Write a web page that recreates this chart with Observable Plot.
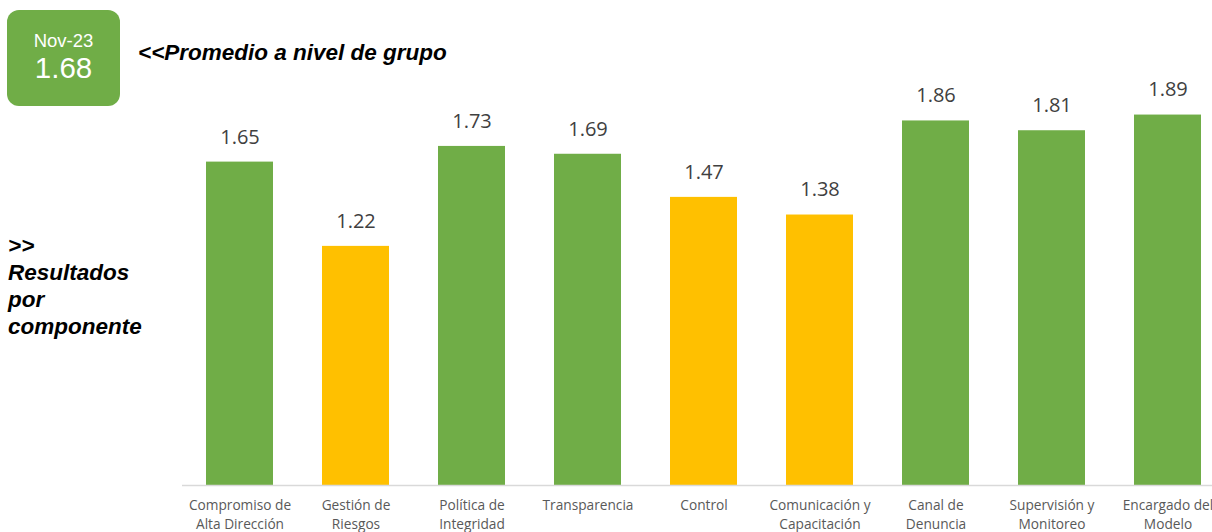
<!DOCTYPE html>
<html>
<head>
<meta charset="utf-8">
<script src="https://cdn.jsdelivr.net/npm/d3@7"></script>
<script src="https://cdn.jsdelivr.net/npm/@observablehq/plot@0.6"></script>
<style>
  html, body { margin: 0; padding: 0; background: #fff; overflow: hidden; }
  #wrap { position: relative; width: 1212px; height: 532px; }
  #chart { position: absolute; left: 0; top: 0; }
  .badge { position: absolute; left: 7px; top: 10px; width: 113px; height: 96px; background: #70ad47; border-radius: 12px; color: #fff; font-family: "Liberation Sans", Arial, sans-serif; text-align: center; }
  .badge .m { position: absolute; left: 0; right: 0; top: 20px; font-size: 18.5px; line-height: 22px; }
  .badge .v { position: absolute; left: 0; right: 0; top: 41px; font-size: 29.5px; line-height: 34px; }
  .title { position: absolute; left: 138px; top: 40px; font-family: "Liberation Sans", Arial, sans-serif; font-weight: bold; font-style: italic; font-size: 22.5px; line-height: 26px; color: #000; white-space: nowrap; }
  .side { position: absolute; left: 8px; top: 232px; font-family: "Liberation Sans", Arial, sans-serif; font-weight: bold; font-style: italic; font-size: 22.5px; line-height: 27px; color: #000; }
</style>
</head>
<body>
<div id="wrap">
  <div id="chart"></div>
  <div class="badge"><div class="m">Nov-23</div><div class="v">1.68</div></div>
  <div class="title">&lt;&lt;Promedio a nivel de grupo</div>
  <div class="side">&gt;&gt;<br>Resultados<br>por<br>componente</div>
</div>
<script>
const categories = [
  "Compromiso de\nAlta Dirección",
  "Gestión de\nRiesgos",
  "Política de\nIntegridad",
  "Transparencia",
  "Control",
  "Comunicación y\nCapacitación",
  "Canal de\nDenuncia",
  "Supervisión y\nMonitoreo",
  "Encargado del\nModelo"
];
const values = [1.65, 1.22, 1.73, 1.69, 1.47, 1.38, 1.86, 1.81, 1.89];
const nivel = ["alto", "bajo", "alto", "alto", "bajo", "bajo", "alto", "alto", "alto"];

const data = categories.map((c, i) => ({cat: c, value: values[i], nivel: nivel[i]}));

const chart = Plot.plot({
  width: 1212,
  height: 532,
  marginLeft: 182,
  marginRight: 0,
  marginTop: 0,
  marginBottom: 0,
  style: {overflow: "visible", background: "transparent"},
  x: {domain: categories, range: [182, 1226], paddingInner: 0.42, paddingOuter: 0.21, axis: null},
  y: {domain: [0, 2], range: [485, 93], axis: null},
  color: {domain: ["alto", "bajo"], range: ["#70ad47", "#ffc000"]},
  marks: [
    Plot.barY(data, {x: "cat", y: "value", fill: "nivel"}),
    Plot.ruleY([0], {stroke: "#d9d9d9", strokeWidth: 1.5}),
    Plot.text(data, {x: "cat", y: "value", text: d => d.value.toFixed(2), dy: -25, fill: "#404040", fontSize: 20, fontFamily: "Open Sans, Lato, sans-serif"}),
    Plot.text(data, {x: "cat", y: 0, text: "cat", dy: 12, lineAnchor: "top", lineHeight: 1.33, fill: "#595959", fontSize: 13.7, fontFamily: "Open Sans, Lato, sans-serif"})
  ]
});
document.getElementById("chart").appendChild(chart);
</script>
</body>
</html>
